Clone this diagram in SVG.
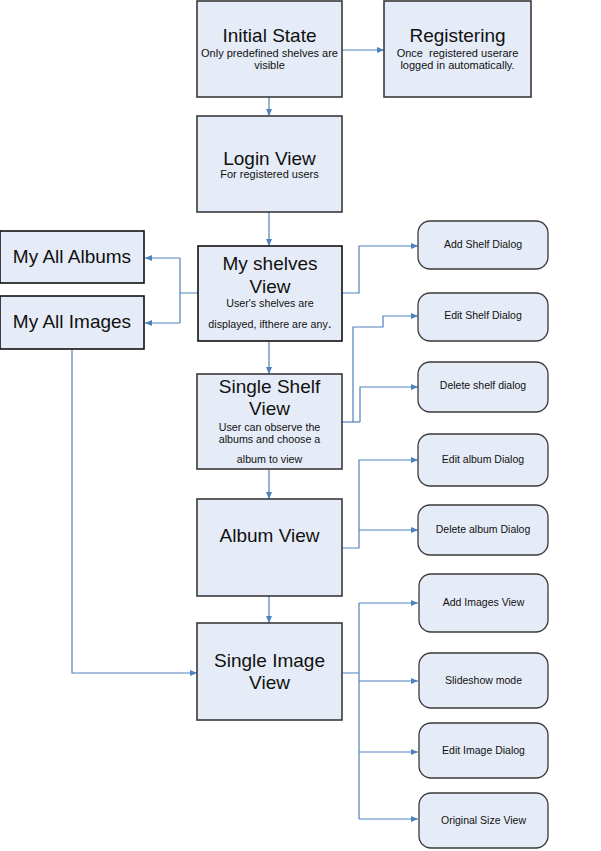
<svg xmlns="http://www.w3.org/2000/svg" width="601" height="851" viewBox="0 0 601 851">
<style>
  .box { fill: #E6ECF7; stroke: #3a3a3a; stroke-width: 1.6; }
  .dlg { fill: #E6ECF7; stroke: #3a3a3a; stroke-width: 1.3; }
  .t { font-family: "Liberation Sans", Arial, sans-serif; fill: #111; text-anchor: middle; }
  .big { font-size: 19px; }
  .small { font-size: 10.7px; }
  .sub { font-size: 11px; }
  .dt { font-size: 10.5px; }
  .c { fill: none; stroke: #4F81BD; stroke-width: 1.2; }
</style>
<defs>
  <marker id="ah" markerUnits="userSpaceOnUse" markerWidth="8" markerHeight="8" refX="7" refY="4" orient="auto">
    <path d="M0,1 L7,4 L0,7 Z" fill="#4F81BD"/>
  </marker>
</defs>
<rect width="601" height="851" fill="#ffffff"/>

<g id="connectors">
  <path class="c" d="M342,50 H384" marker-end="url(#ah)"/>
  <path class="c" d="M269,97 V116" marker-end="url(#ah)"/>
  <path class="c" d="M269,212 V246" marker-end="url(#ah)"/>
  <path class="c" d="M198,293 H180 M180,258 V323"/>
  <path class="c" d="M180,258 H145" marker-end="url(#ah)"/>
  <path class="c" d="M180,323 H145" marker-end="url(#ah)"/>
  <path class="c" d="M72,349 V673 H197" marker-end="url(#ah)"/>
  <path class="c" d="M342,293 H359 V246 H418" marker-end="url(#ah)"/>
  <path class="c" d="M342,422 H360"/>
  <path class="c" d="M353,422 V327 H383 V316 H418" marker-end="url(#ah)"/>
  <path class="c" d="M360,422 V387 H418" marker-end="url(#ah)"/>
  <path class="c" d="M269,341 V374" marker-end="url(#ah)"/>
  <path class="c" d="M269,469 V499" marker-end="url(#ah)"/>
  <path class="c" d="M342,548 H359 V460 H418" marker-end="url(#ah)"/>
  <path class="c" d="M359,530 H418" marker-end="url(#ah)"/>
  <path class="c" d="M269,596 V623" marker-end="url(#ah)"/>
  <path class="c" d="M342,673 H359 M359,603 V819"/>
  <path class="c" d="M359,603 H418" marker-end="url(#ah)"/>
  <path class="c" d="M359,681 H418" marker-end="url(#ah)"/>
  <path class="c" d="M359,752 H418" marker-end="url(#ah)"/>
  <path class="c" d="M359,819 H418" marker-end="url(#ah)"/>
</g>

<g id="initial-state">
  <rect class="box" x="197" y="1" width="145" height="96"/>
  <text class="t big" x="269.5" y="42">Initial State</text>
  <text class="t sub" x="269.5" y="57">Only predefined shelves are</text>
  <text class="t sub" x="269.5" y="69">visible</text>
</g>
<g id="registering">
  <rect class="box" x="384" y="1" width="147" height="96"/>
  <text class="t big" x="457.5" y="42">Registering</text>
  <text class="t sub" x="457.5" y="57" xml:space="preserve">Once  registered userare</text>
  <text class="t sub" x="457.5" y="69">logged in automatically.</text>
</g>
<g id="login-view">
  <rect class="box" x="197" y="116" width="145" height="96"/>
  <text class="t big" x="269.5" y="165">Login View</text>
  <text class="t sub" x="269.5" y="178">For registered users</text>
</g>
<g id="my-shelves-view">
  <rect class="box" x="198" y="246" width="144" height="95" style="stroke:#111"/>
  <text class="t big" x="270" y="270">My shelves</text>
  <text class="t big" x="270" y="293">View</text>
  <text class="t small" x="270" y="307">User's shelves are</text>
  <text class="t small" x="270" y="328">displayed, ifthere are any<tspan font-size="14px">.</tspan></text>
</g>
<g id="my-all-albums">
  <rect class="box" x="0" y="231" width="144" height="52" style="stroke:#111"/>
  <text class="t big" x="72" y="263">My All Albums</text>
</g>
<g id="my-all-images">
  <rect class="box" x="0" y="296" width="144" height="53" style="stroke:#111"/>
  <text class="t big" x="72" y="328">My All Images</text>
</g>
<g id="add-shelf-dialog">
  <rect class="dlg" x="418" y="221" width="130" height="48" rx="12"/>
  <text class="t dt" x="483" y="248">Add Shelf Dialog</text>
</g>
<g id="edit-shelf-dialog">
  <rect class="dlg" x="418" y="293" width="130" height="48" rx="12"/>
  <text class="t dt" x="483" y="319">Edit Shelf Dialog</text>
</g>
<g id="delete-shelf-dialog">
  <rect class="dlg" x="418" y="362" width="130" height="50" rx="12"/>
  <text class="t dt" x="483" y="389">Delete shelf dialog</text>
</g>
<g id="single-shelf-view">
  <rect class="box" x="197" y="374" width="145" height="95"/>
  <text class="t big" x="269.5" y="393">Single Shelf</text>
  <text class="t big" x="269.5" y="415">View</text>
  <text class="t small" x="269.5" y="431">User can observe the</text>
  <text class="t small" x="269.5" y="443">albums and choose a</text>
  <text class="t small" x="269.5" y="463">album to view</text>
</g>
<g id="edit-album-dialog">
  <rect class="dlg" x="418" y="434" width="130" height="52" rx="12"/>
  <text class="t dt" x="483" y="463">Edit album Dialog</text>
</g>
<g id="delete-album-dialog">
  <rect class="dlg" x="418" y="505" width="130" height="50" rx="12"/>
  <text class="t dt" x="483" y="533">Delete album Dialog</text>
</g>
<g id="album-view">
  <rect class="box" x="197" y="499" width="145" height="97"/>
  <text class="t big" x="269.5" y="542">Album View</text>
</g>
<g id="single-image-view">
  <rect class="box" x="197" y="623" width="145" height="97"/>
  <text class="t big" x="269.5" y="667">Single Image</text>
  <text class="t big" x="269.5" y="689">View</text>
</g>
<g id="add-images-view">
  <rect class="dlg" x="419" y="574" width="129" height="58" rx="12"/>
  <text class="t dt" x="483.5" y="606">Add Images View</text>
</g>
<g id="slideshow-mode">
  <rect class="dlg" x="419" y="653" width="129" height="55" rx="12"/>
  <text class="t dt" x="483.5" y="684">Slideshow mode</text>
</g>
<g id="edit-image-dialog">
  <rect class="dlg" x="419" y="723" width="129" height="55" rx="12"/>
  <text class="t dt" x="483.5" y="754">Edit Image Dialog</text>
</g>
<g id="original-size-view">
  <rect class="dlg" x="419" y="793" width="129" height="55" rx="12"/>
  <text class="t dt" x="483.5" y="824">Original Size View</text>
</g>
</svg>
